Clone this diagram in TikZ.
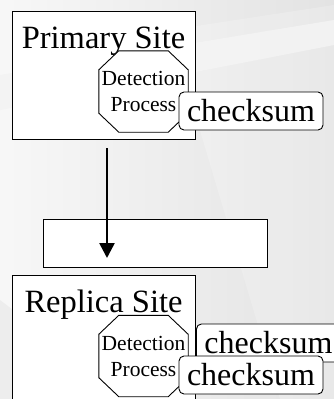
\documentclass[tikz,border=0pt]{standalone}
\usepackage{fontspec}
\setmainfont{Liberation Serif}
\usepackage{tikz}
\usetikzlibrary{arrows.meta, positioning, calc}

\tikzset{
	sitebox/.style={rectangle, draw, fill=white, line width=0.9pt, minimum width=183pt},
	sitetitle/.style={anchor=base, font=\fontsize{32.5}{38}\selectfont},
	detproc/.style={align=center, inner sep=0pt, minimum width=89pt, minimum height=81pt, font=\fontsize{21.5}{26}\selectfont},
	chkbox/.style={rectangle, rounded corners=5pt, draw, fill=white, line width=0.9pt, minimum height=38pt, font=\fontsize{32}{38}\selectfont}
}

\begin{document}
\begin{tikzpicture}[x=1pt, y=-1pt]
			\useasboundingbox (0,0) rectangle (334,399);
			\clip (0,0) rectangle (334,399);
			% background
			\shade[left color=black!3, right color=black!11] (0,0) rectangle (334,399);
			\fill[black!5, opacity=0.8] (0,75) -- (334,20) -- (334,45) -- (0,110) -- cycle;
			\fill[black!10, opacity=0.5] (0,300) -- (130,399) -- (0,399) -- cycle;
			\fill[white, opacity=0.2] (170,30) -- (334,5) -- (334,399) -- (280,399) -- cycle;

			% primary site
			\node[sitebox, minimum height=128pt] (primary) at (103.5,75) {};
			\node[sitetitle] (ptitle) at ($(primary.north)+(0,38)$) {Primary Site};
			\node[detproc] (det1) at (143.5,91.5) {};
			\draw[line width=0.9pt, fill=white] ($(det1.north west)+(20,0)$) -- ($(det1.north east)+(-20,0)$) -- ($(det1.north east)+(0,19)$) -- ($(det1.south east)+(0,-19)$) -- ($(det1.south east)+(-20,0)$) -- ($(det1.south west)+(20,0)$) -- ($(det1.south west)+(0,-19)$) -- ($(det1.north west)+(0,19)$) -- cycle;
			\node[detproc] at (det1) {Detection\\Process};
			\node[chkbox, minimum width=144pt] (chk1) at (251,111) {checksum};

			% middle box
			\node[rectangle, draw, fill=white, line width=0.9pt, minimum width=224pt, minimum height=48pt] (mid) at (155,243) {};
			\coordinate (from) at (107,148);
			\coordinate (to) at (107,258);
			\draw[-{Triangle[width=15pt, length=15pt]}, line width=2.6pt] (from) -- (to);

			% replica site
			\node[sitebox, minimum height=150pt] (replica) at (103.5,350) {};
			\node[sitetitle] (rtitle) at ($(replica.north)+(0,38)$) {Replica Site};
			\node[detproc] (det2) at (143.5,356) {};
			\draw[line width=0.9pt, fill=white] ($(det2.north west)+(20,0)$) -- ($(det2.north east)+(-20,0)$) -- ($(det2.north east)+(0,19)$) -- ($(det2.south east)+(0,-19)$) -- ($(det2.south east)+(-20,0)$) -- ($(det2.south west)+(20,0)$) -- ($(det2.south west)+(0,-19)$) -- ($(det2.north west)+(0,19)$) -- cycle;
			\node[detproc] at (det2) {Detection\\Process};
			\node[chkbox, anchor=west, text width=134pt, align=left, inner xsep=8pt] (chk2) at (196,343) {checksum};
			\node[chkbox, minimum width=144pt] (chk3) at (251,375) {checksum};
		\end{tikzpicture}
\end{document}
